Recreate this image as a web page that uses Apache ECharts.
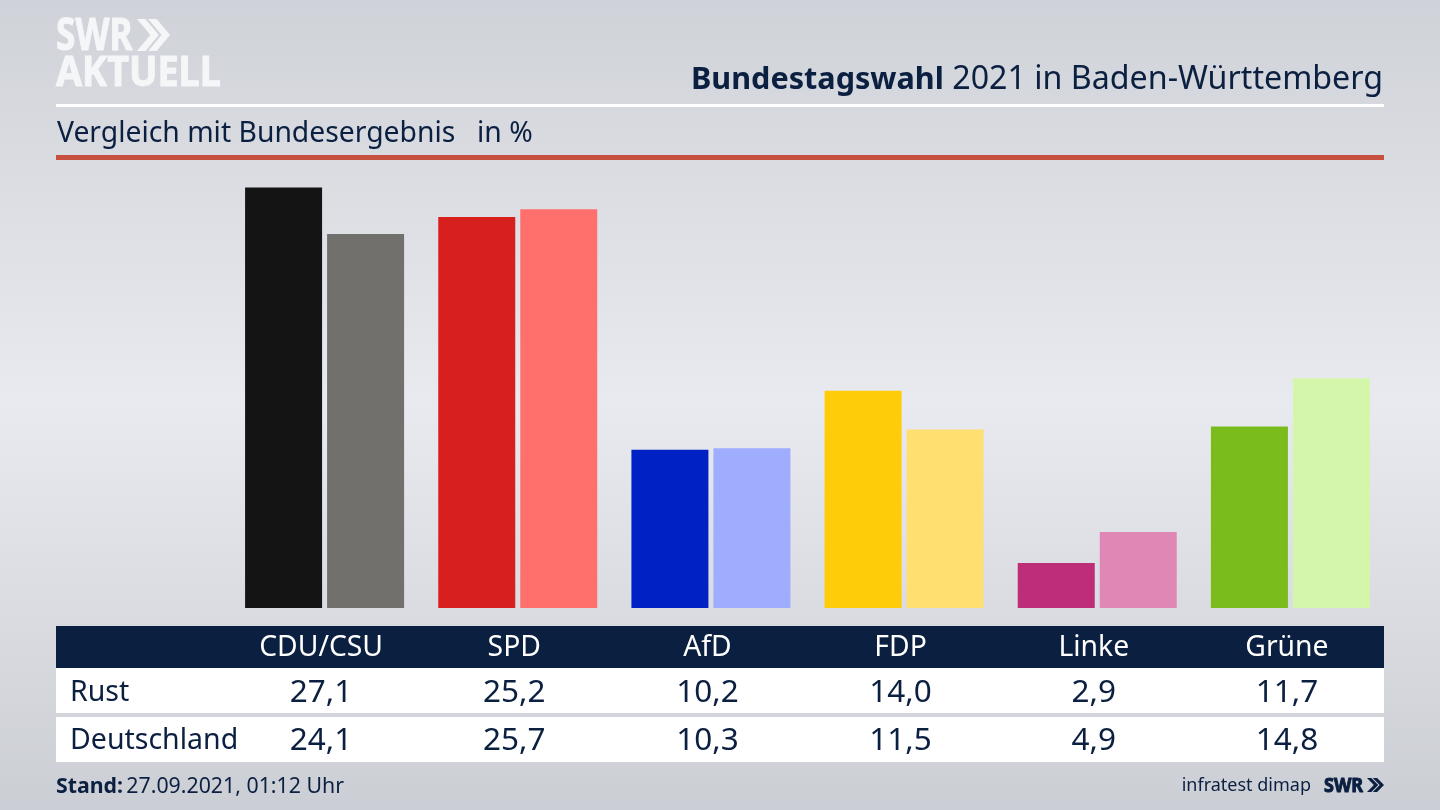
<!DOCTYPE html>
<html>
<head>
<meta charset="utf-8">
<style>html,body{margin:0;padding:0;background:#dfe1e6}#box{width:1440px;height:810px}</style>
<script src="https://cdn.jsdelivr.net/npm/echarts@6/dist/echarts.min.js"></script>
</head>
<body>
<div id="box"></div>
<script>
var parties = ['CDU/CSU', 'SPD', 'AfD', 'FDP', 'Linke', 'Grüne'];
var rust = [27.1, 25.2, 10.2, 14.0, 2.9, 11.7];
var deutschland = [24.1, 25.7, 10.3, 11.5, 4.9, 14.8];
var rustColors = ['#141414', '#d71f1d', '#0021c4', '#ffcc0a', '#bd2d78', '#79bc1c'];
var deutschlandColors = ['#72706d', '#ff706c', '#9fadff', '#ffdf70', '#df88b6', '#d4f6aa'];

var font = '"Noto Sans"';
var navy = '#0b2040';

function fmt(v) {
    return v.toFixed(1).replace('.', ',');
}
function bars(values, colors) {
    return values.map(function (v, i) {
        return { value: v, itemStyle: { color: colors[i] } };
    });
}
// the table rows are extra category axes, they sit 3.5px left of the bars
function tableAxis(labels, margin, size) {
    return {
        type: 'category',
        gridIndex: 1,
        data: labels,
        position: 'bottom',
        z: 5,
        axisLine: { show: false },
        axisTick: { show: false },
        axisLabel: {
            interval: 0,
            margin: margin,
            verticalAlign: 'middle',
            fontFamily: font,
            fontSize: size,
            color: margin === 40 ? '#ffffff' : navy
        }
    };
}
function rect(x, y, w, h, fill) {
    return { type: 'rect', shape: { x: x, y: y, width: w, height: h }, style: { fill: fill } };
}
function label(x, y, text, size, align) {
    return {
        type: 'text', x: x, y: y, z: 3,
        style: {
            text: text, fontFamily: font, fontSize: size,
            fill: navy, align: align || 'left', verticalAlign: 'middle'
        }
    };
}
function chevrons(x, y, w, h, fill) {
    var a = w * 0.34;
    var t = w * 0.66;
    var make = function (x0) {
        return {
            type: 'polygon',
            shape: { points: [[x0, y], [x0 + a * 0.75, y], [x0 + t, y + h / 2], [x0 + a * 0.75, y + h], [x0, y + h], [x0 + t - a * 0.75, y + h / 2]] },
            style: { fill: fill }
        };
    };
    return [make(x), make(x + w - t)];
}
function squeezed(x, y, text, size, scaleX, fill) {
    return {
        type: 'text', x: x, y: y, scaleX: scaleX, z: 3,
        style: {
            text: text, fontFamily: font, fontSize: size, fontWeight: 'bold',
            fill: fill, stroke: fill, lineWidth: 1, verticalAlign: 'middle'
        }
    };
}

var elements = [
    rect(56, 104, 1328, 3, '#ffffff'),
    rect(56, 155, 1328, 5, '#c8503e'),
    rect(56, 626, 1328, 42, navy),
    rect(56, 668, 1328, 45, '#ffffff'),
    rect(56, 717, 1328, 45, '#ffffff'),
    label(57, 134, 'Vergleich mit Bundesergebnis', 28.3),
    label(477, 134, 'in %', 28.3),
    label(70, 693, 'Rust', 28.5),
    label(70, 741, 'Deutschland', 28.5),
    label(1311, 786, 'infratest dimap', 18, 'right'),
    {
        type: 'text', x: 1383, y: 80, z: 3,
        style: {
            text: '{b|Bundestagswahl}{r| 2021 in Baden-Württemberg}',
            align: 'right', verticalAlign: 'middle',
            rich: {
                b: { fontFamily: font, fontSize: 30.6, fontWeight: 'bold', fill: navy },
                r: { fontFamily: font, fontSize: 32.2, fill: navy }
            }
        }
    },
    {
        type: 'text', x: 56, y: 787, z: 3,
        style: {
            text: '{b|Stand:} {r|27.09.2021, 01:12 Uhr}',
            align: 'left', verticalAlign: 'middle',
            rich: {
                b: { fontFamily: font, fontSize: 21.3, fontWeight: 'bold', fill: navy },
                r: { fontFamily: font, fontSize: 21.3, fill: navy }
            }
        }
    },
    squeezed(56, 37, 'SWR', 44, 0.8, '#f5f6f8'),
    squeezed(56, 74, 'AKTUELL', 41, 0.92, '#f5f6f8'),
    squeezed(1324, 786, 'SWR', 20, 0.9, navy)
].concat(chevrons(137, 19, 33, 32, '#f5f6f8'), chevrons(1367, 778, 17, 14, navy));

var myCharts = echarts.init(document.getElementById('box'));
var option = {
    animation: false,
    backgroundColor: {
        type: 'linear', x: 0, y: 0, x2: 0, y2: 1,
        colorStops: [
            { offset: 0, color: '#cfd2d8' },
            { offset: 0.5, color: '#e9eaef' },
            { offset: 1, color: '#cbced4' }
        ]
    },
    grid: [
        { left: 228, right: 53, top: 142.4, bottom: 202 },
        { left: 224.5, right: 56.5, top: 142.4, bottom: 202 }
    ],
    xAxis: [
        { type: 'category', gridIndex: 0, data: parties, show: false },
        tableAxis(parties, 40, 28.3),
        tableAxis(rust.map(fmt), 85, 31.5),
        tableAxis(deutschland.map(fmt), 133, 31.5)
    ],
    yAxis: [
        { type: 'value', gridIndex: 0, min: 0, max: 30, show: false },
        { type: 'value', gridIndex: 1, min: 0, max: 30, show: false }
    ],
    series: [
        { name: 'Rust', type: 'bar', barWidth: 77, barGap: '6.5%', data: bars(rust, rustColors) },
        { name: 'Deutschland', type: 'bar', barWidth: 77, barGap: '6.5%', data: bars(deutschland, deutschlandColors) }
    ],
    graphic: { elements: elements }
};
myCharts.setOption(option);
</script>
</body>
</html>
